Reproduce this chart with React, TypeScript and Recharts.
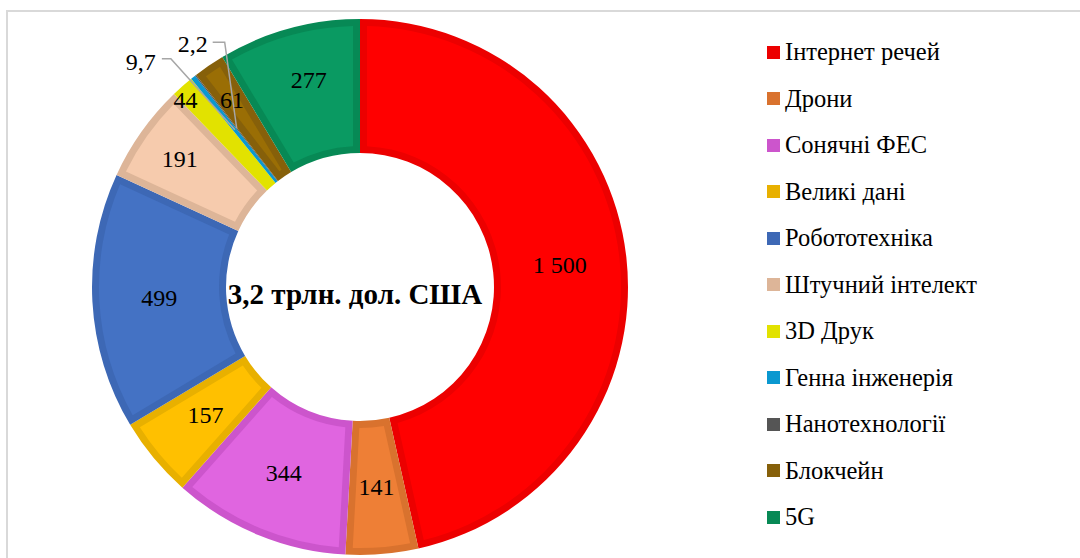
import React from 'react';
import { PieChart, Pie, Cell, Legend } from 'recharts';

const categories = [
  'Інтернет речей',
  'Дрони',
  'Сонячні ФЕС',
  'Великі дані',
  'Робототехніка',
  'Штучний інтелект',
  '3D Друк',
  'Генна інженерія',
  'Нанотехнології',
  'Блокчейн',
  '5G',
];
const values = [1500, 141, 344, 157, 499, 191, 44, 9.7, 2.2, 61, 277];
const valueLabels = ['1 500', '141', '344', '157', '499', '191', '44', '9,7', '2,2', '61', '277'];
const centerTitle = '3,2 трлн. дол. США';

const fillColors = ['#FF0000', '#EE7F36', '#E065E0', '#FFC000', '#4472C4', '#F6CBAD', '#F2F200', '#1AA8E0', '#606060', '#9A6E05', '#0A9A62'];
const edgeColors = ['#EC0000', '#D9722E', '#CC55CC', '#E8B000', '#3D68B5', '#DDB598', '#E2E200', '#0A98D0', '#555555', '#86600A', '#078955'];

const data = categories.map((name, i) => ({ name, value: values[i] }));

const FONT = 'Liberation Serif, Times New Roman, serif';
const CX = 360;
const CY = 287;
const R_OUT = 268;
const R_IN = 134;
const BAND = 7;

// layout nudges for label radius (px beyond mid radius) and angle (deg)
const labelRadiusExtra: Record<number, number> = { 5: 20, 6: 55, 9: 26, 10: 12 };
const labelAngleExtra: Record<number, number> = { 6: 1.5, 10: -1.5 };
// leader-line layout for tiny slices: elbow offset from anchor, horizontal run
const leaders: Record<number, { ex: number; ey: number; run: number; gap: number; dy: number }> = {
  7: { ex: -64, ey: -71, run: 9, gap: 6, dy: 3 },
  8: { ex: -12, ey: -86, run: 12, gap: 5, dy: 2 },
};

const RAD = Math.PI / 180;
const polar = (cx: number, cy: number, r: number, a: number) => ({
  x: cx + r * Math.cos(-a * RAD),
  y: cy + r * Math.sin(-a * RAD),
});

const renderInset = (props: any) => {
  const { cx, cy, innerRadius, outerRadius, startAngle, endAngle, index } = props;
  const ro = outerRadius - BAND;
  const ri = innerRadius + BAND;
  const dOut = Math.asin(BAND / ro) / RAD;
  const dIn = Math.asin(BAND / ri) / RAD;
  const s = Math.max(startAngle, endAngle);
  const e = Math.min(startAngle, endAngle);
  if (s - dIn <= e + dIn + 0.2) return <g key={`in-${index}`} />;
  const p1 = polar(cx, cy, ro, s - dOut);
  const p2 = polar(cx, cy, ro, e + dOut);
  const p3 = polar(cx, cy, ri, e + dIn);
  const p4 = polar(cx, cy, ri, s - dIn);
  const largeO = s - e - 2 * dOut > 180 ? 1 : 0;
  const largeI = s - e - 2 * dIn > 180 ? 1 : 0;
  const d = `M${p1.x},${p1.y} A${ro},${ro} 0 ${largeO} 1 ${p2.x},${p2.y} L${p3.x},${p3.y} A${ri},${ri} 0 ${largeI} 0 ${p4.x},${p4.y} Z`;
  return <path key={`in-${index}`} d={d} fill={fillColors[index]} stroke="none" />;
};

const renderValue = (props: any) => {
  const { cx, cy, innerRadius, outerRadius, midAngle, index } = props;
  const mid = (innerRadius + outerRadius) / 2;
  const parts: React.ReactNode[] = [];
  if (index === 0) {
    parts.push(
      <text key="title" x={cx - 5} y={cy + 7} textAnchor="middle" dominantBaseline="central"
        style={{ fontFamily: FONT }} fontSize={29} fontWeight="bold" fill="#000">
        {centerTitle}
      </text>
    );
  }
  const lead = leaders[index];
  if (lead) {
    const a = polar(cx, cy, mid, midAngle);
    const ex = a.x + lead.ex;
    const ey = a.y + lead.ey;
    const lx = ex - lead.run;
    parts.push(
      <polyline key="ln" points={`${a.x},${a.y} ${ex},${ey} ${lx},${ey}`} fill="none" stroke="#A6A6A6" strokeWidth={1.5} />
    );
    parts.push(
      <text key="t" x={lx - lead.gap} y={ey + lead.dy} textAnchor="end" dominantBaseline="central"
        style={{ fontFamily: FONT }} fontSize={24} fill="#000">
        {valueLabels[index]}
      </text>
    );
  } else {
    const p = polar(cx, cy, mid + (labelRadiusExtra[index] || 0), midAngle + (labelAngleExtra[index] || 0));
    parts.push(
      <text key="t" x={p.x} y={p.y} textAnchor="middle" dominantBaseline="central"
        style={{ fontFamily: FONT }} fontSize={24} fill="#000">
        {valueLabels[index]}
      </text>
    );
  }
  return <g key={`lbl-${index}`}>{parts}</g>;
};

const renderLegend = () => (
  <div style={{ fontFamily: FONT }}>
    {categories.map((name, i) => (
      <div key={name} style={{ height: 46.5, display: 'flex', alignItems: 'center' }}>
        <span style={{ width: 13, height: 13, background: edgeColors[i], display: 'inline-block', marginRight: 5, flex: 'none' }} />
        <span style={{ fontSize: 24.5, color: '#000', whiteSpace: 'nowrap', fontFamily: FONT }}>{name}</span>
      </div>
    ))}
  </div>
);

export default function App() {
  return (
    <div style={{ position: 'absolute', left: 0, top: 0, width: 1080, height: 558, background: '#fff', overflow: 'hidden' }}>
      <div style={{ position: 'absolute', left: 6, top: 10, width: 1200, height: 700, borderTop: '2px solid #D9D9D9', borderLeft: '2px solid #D9D9D9' }} />
      <div style={{ position: 'absolute', left: 0, top: 0 }}>
        <PieChart width={1080} height={558} margin={{ top: 0, right: 0, bottom: 0, left: 0 }}>
          <Pie
            data={data}
            dataKey="value"
            nameKey="name"
            cx={CX}
            cy={CY}
            innerRadius={R_IN}
            outerRadius={R_OUT}
            startAngle={90}
            endAngle={-270}
            stroke="none"
            isAnimationActive={false}
            labelLine={false}
            label={renderInset}
          >
            {data.map((d, i) => (
              <Cell key={d.name} fill={edgeColors[i]} />
            ))}
          </Pie>
          <Pie
            data={data}
            dataKey="value"
            nameKey="name"
            cx={CX}
            cy={CY}
            innerRadius={R_IN}
            outerRadius={R_OUT}
            startAngle={90}
            endAngle={-270}
            stroke="none"
            legendType="none"
            isAnimationActive={false}
            labelLine={false}
            label={renderValue}
          >
            {data.map((d) => (
              <Cell key={d.name} fill="transparent" />
            ))}
          </Pie>
          <Legend
            layout="vertical"
            content={renderLegend}
            wrapperStyle={{ position: 'absolute', left: 767, top: 29, width: 310 }}
          />
        </PieChart>
      </div>
    </div>
  );
}
